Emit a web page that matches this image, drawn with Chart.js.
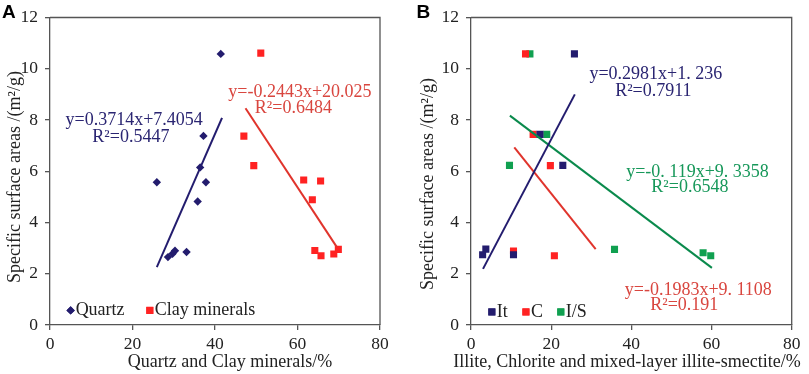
<!DOCTYPE html>
<html>
<head>
<meta charset="utf-8">
<script src="https://cdn.jsdelivr.net/npm/chart.js@4/dist/chart.umd.min.js"></script>
<style>
  html, body { margin: 0; padding: 0; background: #fff; }
  .panel { position: absolute; top: 0; height: 374px; }
</style>
</head>
<body>
<div class="panel" style="left:0;width:400px"><canvas id="chartA" width="400" height="374"></canvas></div>
<div class="panel" style="left:400px;width:409px"><canvas id="chartB" width="409" height="374"></canvas></div>
<script>
// Panel A data (x = mineral content %, y = specific surface area)
const quartzX = [41.4, 37.2, 36.4, 37.8, 25.9, 35.8, 33.1, 30.3, 29.7, 28.6];
const quartzY = [10.58, 7.38, 6.15, 5.57, 5.57, 4.82, 2.85, 2.9, 2.78, 2.65];
const clayX = [51.1, 47.0, 49.4, 61.5, 65.6, 63.6, 64.2, 65.7, 68.8, 69.9];
const clayY = [10.61, 7.37, 6.22, 5.66, 5.62, 4.89, 2.91, 2.70, 2.77, 2.95];
const quartzFitX = [25.9, 41.7];
const quartzFitY = [2.26, 8.08];
const clayFitX = [47.4, 69.5];
const clayFitY = [8.46, 3.05];

// Panel B data
const itX = [25.8, 17.2, 22.9, 3.7, 2.9, 10.6];
const itY = [10.58, 7.44, 6.23, 2.96, 2.74, 2.74];
const chlX = [13.6, 15.5, 19.8, 10.6, 20.8];
const chlY = [10.58, 7.44, 6.22, 2.89, 2.70];
const isX = [14.7, 18.9, 9.6, 35.8, 57.9, 59.8];
const isY = [10.58, 7.44, 6.23, 2.95, 2.82, 2.70];
const itFitX = [3.0, 25.9];
const itFitY = [2.19, 9.0];
const chlFitX = [10.8, 31.1];
const chlFitY = [6.93, 2.96];
const isFitX = [9.7, 60.1];
const isFitY = [8.17, 2.23];

const xTicks = [0, 20, 40, 60, 80];
const yTicks = [0, 2, 4, 6, 8, 10, 12];

const NAVY = '#231c6e', RED = '#ff2222', GREEN = '#10a050';
const NAVY_T = '#2a2572', RED_T = '#d9463f', GREEN_T = '#17985a';
const SERIF = '"Liberation Serif", "Times New Roman", serif';
const AXIS = '#555';

const pts = (xs, ys) => xs.map((x, i) => ({ x: x, y: ys[i] }));

function scatterSet(label, xs, ys, color, style, r) {
  return { type: 'scatter', label: label, data: pts(xs, ys), pointStyle: style,
    pointRadius: r, pointHoverRadius: r, backgroundColor: color, borderColor: color, borderWidth: 0, order: 2 };
}
function fitSet(xs, ys, color) {
  return { type: 'line', data: pts(xs, ys), borderColor: color, borderWidth: 2,
    pointRadius: 0, fill: false, order: 1 };
}

// draws frame, panel letter, axis titles, equations and legend
const decor = {
  id: 'decor',
  afterDraw(chart) {
    const o = chart.options.plugins.decor;
    const ctx = chart.ctx, a = chart.chartArea;
    const sx = chart.scales.x, sy = chart.scales.y;
    ctx.save();
    ctx.strokeStyle = AXIS;
    ctx.lineWidth = 1.3;
    ctx.beginPath();
    ctx.moveTo(a.left, a.top);
    ctx.lineTo(a.right, a.top);
    ctx.lineTo(a.right, a.bottom);
    ctx.stroke();

    ctx.fillStyle = '#000';
    ctx.font = 'bold 19px "Liberation Sans", Arial, sans-serif';
    ctx.textAlign = 'left';
    ctx.textBaseline = 'alphabetic';
    ctx.fillText(o.letter, o.letterX, 18);

    ctx.fillStyle = '#222';
    ctx.font = '18px ' + SERIF;
    ctx.textAlign = 'center';
    ctx.textBaseline = 'middle';
    ctx.fillText(o.xTitle, o.xTitleX, 362);
    ctx.save();
    ctx.translate(o.yTitleX, o.yTitleY);
    ctx.rotate(-Math.PI / 2);
    ctx.fillText('Specific surface areas /(m²/g)', 0, 0);
    ctx.restore();

    o.notes.forEach(n => {
      ctx.fillStyle = n.color;
      ctx.textAlign = 'center';
      ctx.fillText(n.text, sx.getPixelForValue(n.x), sy.getPixelForValue(n.y));
    });

    o.legend.forEach(l => {
      const px = sx.getPixelForValue(l.x), py = sy.getPixelForValue(l.y);
      ctx.fillStyle = l.color;
      Chart.helpers.drawPoint(ctx, { pointStyle: l.style, radius: l.r, borderWidth: 0 }, px, py);
      ctx.fill();
      ctx.fillStyle = '#222';
      ctx.textAlign = 'left';
      ctx.fillText(l.text, px + 5, py);
    });
    ctx.restore();
  }
};

function makeOptions(yWidth, padRight, decorOpts) {
  return {
    responsive: false,
    animation: false,
    layout: { padding: { top: 11, right: padRight, bottom: 0, left: 0 } },
    plugins: { legend: { display: false }, tooltip: { enabled: false }, decor: decorOpts },
    scales: {
      x: {
        type: 'linear', min: 0, max: 80,
        afterBuildTicks: s => { s.ticks = xTicks.map(v => ({ value: v })); },
        afterFit: s => { s.height = 49; },
        ticks: { color: '#222', font: { family: SERIF, size: 17.5 }, padding: 4 },
        grid: { drawOnChartArea: false, drawTicks: true, tickLength: 5, color: AXIS, lineWidth: 1.3 },
        border: { display: true, color: AXIS, width: 1.3 }
      },
      y: {
        type: 'linear', min: 0, max: 12,
        afterBuildTicks: s => { s.ticks = yTicks.map(v => ({ value: v })); },
        afterFit: s => { s.width = yWidth; },
        ticks: { color: '#222', font: { family: SERIF, size: 17.5 }, padding: 7 },
        grid: { drawOnChartArea: false, drawTicks: true, tickLength: 5, color: AXIS, lineWidth: 1.3 },
        border: { display: true, color: AXIS, width: 1.3 }
      }
    }
  };
}

new Chart(document.getElementById('chartA'), {
  data: {
    datasets: [
      scatterSet('Quartz', quartzX, quartzY, NAVY, 'rectRot', 4.2),
      scatterSet('Clay minerals', clayX, clayY, RED, 'rect', 5),
      fitSet(quartzFitX, quartzFitY, NAVY),
      fitSet(clayFitX, clayFitY, '#e0342c')
    ]
  },
  options: makeOptions(50, 20, {
    letter: 'A', letterX: 2,
    xTitle: 'Quartz and Clay minerals/%', xTitleX: 230,
    yTitleX: 15, yTitleY: 177,
    notes: [
      { text: 'y=0.3714x+7.4054', x: 20.4, y: 7.98, color: NAVY_T },
      { text: 'R²=0.5447', x: 19.6, y: 7.33, color: NAVY_T },
      { text: 'y=-0.2443x+20.025', x: 60.6, y: 9.08, color: RED_T },
      { text: 'R²=0.6484', x: 59.0, y: 8.47, color: RED_T }
    ],
    legend: [
      { text: 'Quartz', x: 5.0, y: 0.57, color: NAVY, style: 'rectRot', r: 4.2 },
      { text: 'Clay minerals', x: 24.2, y: 0.57, color: RED, style: 'rect', r: 5 }
    ]
  }),
  plugins: [decor]
});

new Chart(document.getElementById('chartB'), {
  data: {
    datasets: [
      scatterSet('It', itX, itY, NAVY, 'rect', 5),
      scatterSet('C', chlX, chlY, RED, 'rect', 5),
      scatterSet('I/S', isX, isY, GREEN, 'rect', 5),
      fitSet(itFitX, itFitY, NAVY),
      fitSet(chlFitX, chlFitY, '#e0342c'),
      fitSet(isFitX, isFitY, '#0a8a4c')
    ]
  },
  options: makeOptions(71, 17.3, {
    letter: 'B', letterX: 16.5,
    xTitle: 'Illite, Chlorite and mixed-layer illite-smectite/%', xTitleX: 227,
    yTitleX: 28, yTitleY: 184,
    notes: [
      { text: 'y=0.2981x+1. 236', x: 46.1, y: 9.77, color: NAVY_T },
      { text: 'R²=0.7911', x: 45.5, y: 9.12, color: NAVY_T },
      { text: 'y=-0. 119x+9. 3358', x: 56.5, y: 5.95, color: GREEN_T },
      { text: 'R²=0.6548', x: 54.6, y: 5.38, color: GREEN_T },
      { text: 'y=-0.1983x+9. 1108', x: 56.7, y: 1.37, color: RED_T },
      { text: 'R²=0.191', x: 53.2, y: 0.76, color: RED_T }
    ],
    legend: [
      { text: 'It', x: 5.2, y: 0.51, color: NAVY, style: 'rect', r: 5 },
      { text: 'C', x: 13.7, y: 0.51, color: RED, style: 'rect', r: 5 },
      { text: 'I/S', x: 22.4, y: 0.51, color: GREEN, style: 'rect', r: 5 }
    ]
  }),
  plugins: [decor]
});
</script>
</body>
</html>
